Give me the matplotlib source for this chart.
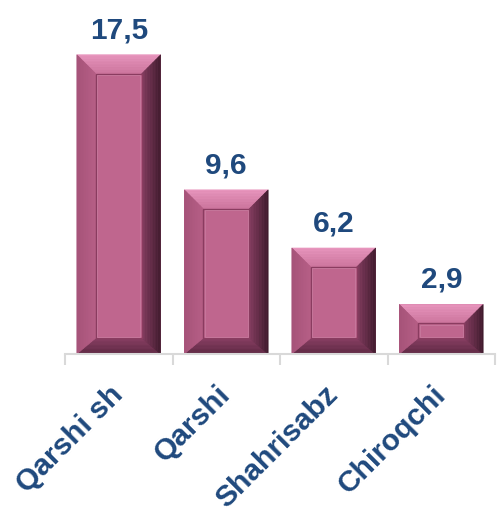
import matplotlib
matplotlib.use("Agg")
import matplotlib.pyplot as plt
import numpy as np
from matplotlib.patches import Polygon

categories = ["Qarshi sh", "Qarshi", "Shahrisabz", "Chiroqchi"]
values = [17.5, 9.6, 6.2, 2.9]
value_labels = ["17,5", "9,6", "6,2", "2,9"]

TEXT = "#1F497D"
FACE = np.array([191, 102, 142]) / 255
TOP_OUT, TOP_IN = np.array([232, 150, 190]) / 255, np.array([205, 118, 158]) / 255
LEFT_OUT, LEFT_IN = np.array([165, 82, 120]) / 255, np.array([182, 94, 134]) / 255
RIGHT_OUT, RIGHT_IN = np.array([62, 26, 44]) / 255, np.array([130, 60, 95]) / 255
BOT_OUT, BOT_IN = np.array([92, 40, 66]) / 255, np.array([135, 62, 98]) / 255

plt.rcParams['font.family'] = ['Liberation Sans', 'DejaVu Sans']

fig = plt.figure(figsize=(4.98, 5.14), dpi=100)
ax = fig.add_axes([65 / 498, 1 - 354 / 514, 430 / 498, (354 - 12) / 514])
x = np.arange(len(categories))
ax.set_xlim(-0.5, len(categories) - 0.5)
ax.set_ylim(0, 20)

bars = ax.bar(x, values, width=0.78, color=FACE, edgecolor='none', zorder=2)

inv = ax.transData.inverted()


def to_data(pts):
    return inv.transform(np.array(pts, dtype=float))


def grad_trap(A, B, C, D, c_out, c_in, n=12):
    # A,B outer edge; D,C inner edge (A->D, B->C)
    A, B, C, D = map(np.array, (A, B, C, D))
    for k in range(n):
        t0, t1 = k / n, (k + 1) / n
        p = [A + (D - A) * t0, B + (C - B) * t0, B + (C - B) * t1, A + (D - A) * t1]
        col = c_out + (c_in - c_out) * ((k + 0.5) / n)
        ax.add_patch(Polygon(to_data(p), closed=True, facecolor=col,
                             edgecolor=col, lw=0.4, zorder=3))


bx, bt, bb = 19, 19, 16
for rect in bars:
    (x0, y0) = ax.transData.transform((rect.get_x(), 0))
    (x1, y1) = ax.transData.transform((rect.get_x() + rect.get_width(), rect.get_height()))
    ix0, ix1, iy0, iy1 = x0 + bx, x1 - bx, y0 + bb, y1 - bt
    grad_trap((x0, y1), (x1, y1), (ix1, iy1), (ix0, iy1), TOP_OUT, TOP_IN)
    grad_trap((x0, y0), (x1, y0), (ix1, iy0), (ix0, iy0), BOT_OUT, BOT_IN)
    grad_trap((x0, y0), (x0, y1), (ix0, iy1), (ix0, iy0), LEFT_OUT, LEFT_IN)
    grad_trap((x1, y0), (x1, y1), (ix1, iy1), (ix1, iy0), RIGHT_OUT, RIGHT_IN)
    face = [(ix0, iy0), (ix1, iy0), (ix1, iy1), (ix0, iy1)]
    ax.add_patch(Polygon(to_data(face), closed=True, facecolor=FACE,
                         edgecolor="#8A3C60", lw=1.0, zorder=4))
    hl = [(ix0 + 1.5, iy0 + 1.5), (ix1 - 1.5, iy0 + 1.5), (ix1 - 1.5, iy1 - 1.5), (ix0 + 1.5, iy1 - 1.5)]
    ax.add_patch(Polygon(to_data(hl), closed=True, facecolor='none',
                         edgecolor="#C87A9E", lw=0.6, zorder=4))

for xi, v, lab in zip(x, values, value_labels):
    ax.annotate(lab, xy=(xi, v), xytext=(0, 12), textcoords='offset points',
                ha='center', va='baseline', fontsize=21.5, fontweight='bold',
                color=TEXT, zorder=5)

for s in ['left', 'top', 'right']:
    ax.spines[s].set_visible(False)
ax.spines['bottom'].set_color('#D9D9D9')
ax.spines['bottom'].set_linewidth(1.5)
ax.spines['bottom'].set_zorder(6)
ax.set_yticks([])

ax.set_xticks(np.arange(-0.5, len(categories)), labels=[''] * (len(categories) + 1))
ax.tick_params(axis='x', which='major', length=8, width=1.5, color='#D9D9D9')
ax.set_xticks(x, minor=True)
ax.set_xticklabels(categories, minor=True, rotation=45, ha='right', va='center',
                   rotation_mode='anchor', fontsize=21.5, fontweight='bold', color=TEXT)
ax.tick_params(axis='x', which='minor', length=0, pad=26)

fig.savefig("out.png", dpi=100)
